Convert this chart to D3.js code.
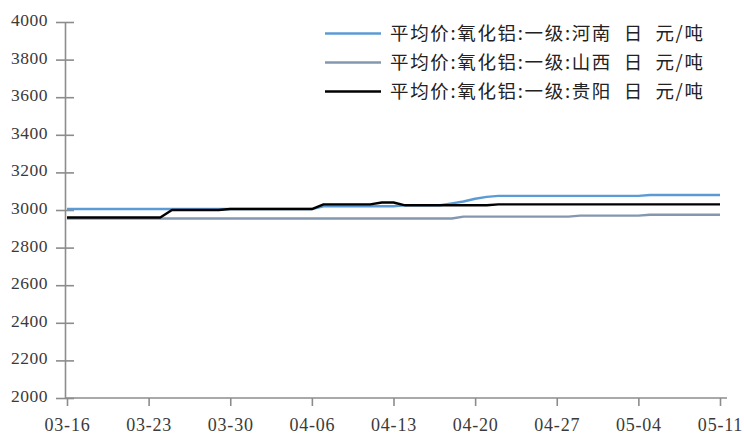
<!DOCTYPE html>
<html>
<head>
<meta charset="utf-8">
<script src="https://cdn.jsdelivr.net/npm/d3@7"></script>
<style>
  html, body { margin: 0; padding: 0; background: #fff; }
  svg { display: block; }
</style>
</head>
<body>
<svg id="chart" width="744" height="434"></svg>
<script>
// Daily observations, 03-16 through 05-11
const startDay = Date.UTC(2023, 2, 16);
const endDay = Date.UTC(2023, 4, 11);

const seriesNames = [
  "平均价:氧化铝:一级:河南 日 元/吨",
  "平均价:氧化铝:一级:山西 日 元/吨",
  "平均价:氧化铝:一级:贵阳 日 元/吨"
];

const henan = [
  3005, 3005, 3005, 3005, 3005, 3005, 3005, 3005, 3005, 3005,
  3005, 3005, 3005, 3005, 3005, 3005, 3005, 3005, 3005, 3005,
  3005, 3005, 3020, 3020, 3020, 3020, 3020, 3020, 3020, 3025,
  3025, 3025, 3025, 3035, 3045, 3060, 3070, 3075, 3075, 3075,
  3075, 3075, 3075, 3075, 3075, 3075, 3075, 3075, 3075, 3075,
  3080, 3080, 3080, 3080, 3080, 3080, 3080
];

const shanxi = [
  2955, 2955, 2955, 2955, 2955, 2955, 2955, 2955, 2955, 2955,
  2955, 2955, 2955, 2955, 2955, 2955, 2955, 2955, 2955, 2955,
  2955, 2955, 2955, 2955, 2955, 2955, 2955, 2955, 2955, 2955,
  2955, 2955, 2955, 2955, 2965, 2965, 2965, 2965, 2965, 2965,
  2965, 2965, 2965, 2965, 2970, 2970, 2970, 2970, 2970, 2970,
  2975, 2975, 2975, 2975, 2975, 2975, 2975
];

const guiyang = [
  2960, 2960, 2960, 2960, 2960, 2960, 2960, 2960, 2960, 3000,
  3000, 3000, 3000, 3000, 3005, 3005, 3005, 3005, 3005, 3005,
  3005, 3005, 3030, 3030, 3030, 3030, 3030, 3040, 3040, 3025,
  3025, 3025, 3025, 3025, 3025, 3025, 3025, 3030, 3030, 3030,
  3030, 3030, 3030, 3030, 3030, 3030, 3030, 3030, 3030, 3030,
  3030, 3030, 3030, 3030, 3030, 3030, 3030
];

const seriesColors = ["#5b9bd5", "#8497b0", "#000000"];

const yTicks = [2000, 2200, 2400, 2600, 2800, 3000, 3200, 3400, 3600, 3800, 4000];
const xTickLabels = ["03-16", "03-23", "03-30", "04-06", "04-13", "04-20", "04-27", "05-04", "05-11"];

const days = d3.utcDay.range(new Date(startDay), d3.utcDay.offset(new Date(endDay), 1));
// one labelled tick per week
const xTickDates = xTickLabels.map((_, i) => d3.utcDay.offset(new Date(startDay), i * 7));

const svg = d3.select("#chart");

const x = d3.scaleUtc()
  .domain([new Date(startDay), new Date(endDay)])
  .range([67, 720]);

const y = d3.scaleLinear()
  .domain([2000, 4000])
  .range([398, 22]);

const axisColor = "#8c8c8c";
const labelColor = "#3a3a3a";
const serifStack = "'Liberation Serif', 'Times New Roman', Tinos, 'DejaVu Serif', serif";

// Y axis: ticks cross the axis line
const yAxis = svg.append("g")
  .attr("transform", "translate(65,0)")
  .call(d3.axisLeft(y).tickValues(yTicks).tickFormat(d3.format("d"))
    .tickSize(9).tickSizeOuter(0).tickPadding(8));
yAxis.attr("font-family", serifStack).attr("font-size", 17.5);
yAxis.select(".domain").attr("stroke", axisColor).attr("stroke-width", 1.6);
yAxis.selectAll(".tick line").attr("stroke", axisColor).attr("stroke-width", 1.6).attr("x2", 9).attr("x1", -9);
yAxis.selectAll(".tick text")
  .attr("fill", labelColor)
  .style("font-family", serifStack)
  .style("font-size", "17.5px")
  .style("letter-spacing", "0.5px")
  .attr("dy", "0.2em");

// X axis
const xAxis = svg.append("g")
  .attr("transform", "translate(0,398)")
  .call(d3.axisBottom(x).tickValues(xTickDates).tickSize(8).tickSizeOuter(0)
    .tickFormat((d, i) => xTickLabels[i]));
xAxis.attr("font-family", serifStack).attr("font-size", 18);
xAxis.select(".domain").remove();
xAxis.append("line")
  .attr("x1", 65).attr("x2", 727)
  .attr("stroke", axisColor).attr("stroke-width", 1.6);
xAxis.selectAll(".tick line").attr("stroke", axisColor).attr("stroke-width", 1.6);
xAxis.selectAll(".tick text")
  .attr("fill", labelColor)
  .style("font-family", serifStack)
  .style("font-size", "18px")
  .style("letter-spacing", "0.8px")
  .attr("y", 33)
  .attr("dy", 0);

// Series lines
const seriesValues = [henan, shanxi, guiyang];
const line = d3.line()
  .x((d, i) => x(days[i]))
  .y(d => y(d));

svg.append("g")
  .selectAll("path")
  .data(seriesValues)
  .join("path")
  .attr("d", d => line(d))
  .attr("fill", "none")
  .attr("stroke", (d, i) => seriesColors[i])
  .attr("stroke-width", 2.4)
  .attr("stroke-linejoin", "round");

// Legend
const legendY = [33.5, 62.5, 91.5];
const legend = svg.append("g");
seriesNames.forEach((name, i) => {
  legend.append("line")
    .attr("x1", 325).attr("x2", 381)
    .attr("y1", legendY[i]).attr("y2", legendY[i])
    .attr("stroke", seriesColors[i])
    .attr("stroke-width", 2.6);
  legend.append("text")
    .attr("x", 390)
    .attr("y", legendY[i])
    .attr("dy", "0.36em")
    .attr("xml:space", "preserve")
    .style("font-family", "'Noto Sans CJK SC', sans-serif")
    .style("font-size", "18.5px")
    .attr("fill", "#222")
    .attr("textLength", 313)
    .attr("lengthAdjust", "spacing")
    .text(name.replace(" 日 ", "  日  "));
});
</script>
</body>
</html>
